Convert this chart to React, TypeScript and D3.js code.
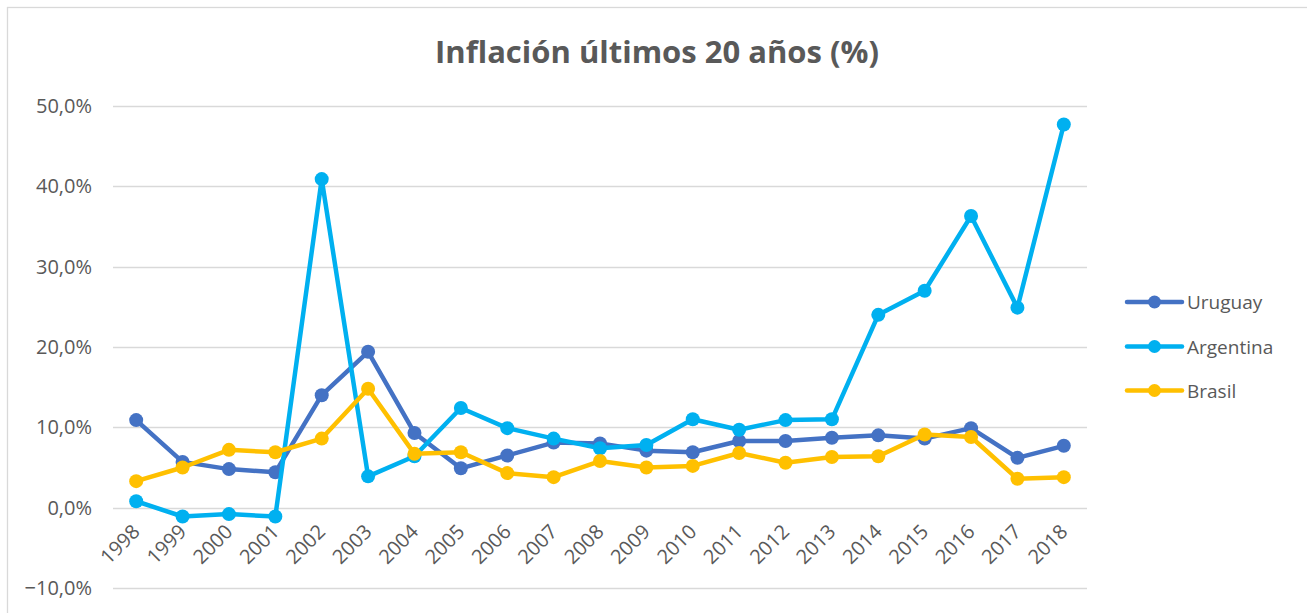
import { useEffect, useRef } from 'react'
import * as d3 from 'd3'

const years = ['1998', '1999', '2000', '2001', '2002', '2003', '2004', '2005', '2006', '2007', '2008',
  '2009', '2010', '2011', '2012', '2013', '2014', '2015', '2016', '2017', '2018']

const uruguay = [10.9, 5.7, 4.8, 4.4, 14.0, 19.4, 9.3, 4.9, 6.5, 8.1, 8.0, 7.1, 6.9, 8.3, 8.3, 8.7, 9.0, 8.6, 9.9, 6.2, 7.7]
const argentina = [0.8, -1.1, -0.8, -1.1, 40.9, 3.9, 6.4, 12.4, 9.9, 8.6, 7.4, 7.8, 11.0, 9.7, 10.9, 11.0, 24.0, 27.0, 36.3, 24.9, 47.7]
const brasil = [3.3, 5.0, 7.2, 6.9, 8.6, 14.8, 6.7, 6.9, 4.3, 3.8, 5.8, 5.0, 5.2, 6.8, 5.6, 6.3, 6.4, 9.1, 8.8, 3.6, 3.8]

const seriesNames = ['Uruguay', 'Argentina', 'Brasil']
const seriesColors = ['#4472C4', '#00B0F0', '#FFC000']
const yTicks = [-10, 0, 10, 20, 30, 40, 50]

const W = 1307
const H = 613
const FONT = '"Open Sans", "Noto Sans", sans-serif'

export default function App() {
  const svgRef = useRef<SVGSVGElement>(null)

  useEffect(() => {
    if (!svgRef.current) return
    const svg = d3.select(svgRef.current)
    svg.selectAll('*').remove()

    const x = d3.scalePoint<string>().domain(years).range([113, 1087]).padding(0.5)
    const y = d3.scaleLinear().domain([-10, 50]).range([588, 106])

    // chart frame
    svg.append('rect')
      .attr('x', 7.5).attr('y', 7.5).attr('width', W + 20).attr('height', H + 20)
      .attr('fill', '#fff').attr('stroke', '#D9D9D9').attr('stroke-width', 1.3)

    // title
    svg.append('text')
      .attr('x', 657).attr('y', 63)
      .attr('text-anchor', 'middle')
      .attr('fill', '#595959').attr('font-family', FONT)
      .attr('font-size', '31px').attr('font-weight', 'bold')
      .text('Inflación últimos 20 años (%)')

    // gridlines + y labels
    const grid = svg.append('g')
    for (const t of yTicks) {
      grid.append('line')
        .attr('x1', 113).attr('x2', 1087)
        .attr('y1', Math.round(y(t)) + 0.5).attr('y2', Math.round(y(t)) + 0.5)
        .attr('stroke', '#D9D9D9').attr('stroke-width', 1.3)
      grid.append('text')
        .attr('x', 92).attr('y', y(t) + 7)
        .attr('text-anchor', 'end')
        .attr('fill', '#595959').attr('font-family', FONT).attr('font-size', '20px')
        .text(`${d3.format('.1f')(t).replace('.', ',')}%`)
    }

    // x labels
    for (const yr of years) {
      svg.append('text')
        .attr('transform', `translate(${(x(yr) as number) + 5},533) rotate(-45)`)
        .attr('text-anchor', 'end')
        .attr('fill', '#595959').attr('font-family', FONT).attr('font-size', '20px')
        .text(yr)
    }

    // series
    const all = [uruguay, argentina, brasil]
    const line = d3.line<number>()
      .x((_, i) => x(years[i]) as number)
      .y(d => y(d))

    all.forEach((vals, si) => {
      const g = svg.append('g')
      g.append('path')
        .datum(vals)
        .attr('fill', 'none')
        .attr('stroke', seriesColors[si])
        .attr('stroke-width', 4.5)
        .attr('stroke-linejoin', 'round')
        .attr('d', line)
      g.selectAll('circle')
        .data(vals)
        .join('circle')
        .attr('cx', (_, i) => x(years[i]) as number)
        .attr('cy', d => y(d))
        .attr('r', 7)
        .attr('fill', seriesColors[si])
    })

    // legend
    const legendY = [302, 346.5, 390.5]
    seriesNames.forEach((name, i) => {
      const lg = svg.append('g').attr('transform', `translate(1127,${legendY[i]})`)
      lg.append('line')
        .attr('x1', 0).attr('x2', 55).attr('y1', 0).attr('y2', 0)
        .attr('stroke', seriesColors[i]).attr('stroke-width', 4.5).attr('stroke-linecap', 'round')
      lg.append('circle').attr('cx', 27.5).attr('cy', 0).attr('r', 6.5).attr('fill', seriesColors[i])
      lg.append('text')
        .attr('x', 60).attr('y', 7)
        .attr('fill', '#595959').attr('font-family', FONT).attr('font-size', '19px')
        .text(name)
    })
  }, [])

  return (
    <div style={{ position: 'absolute', left: 0, top: 0, width: W, height: H, overflow: 'hidden' }}>
      <svg ref={svgRef} width={W} height={H} style={{ display: 'block' }} />
    </div>
  )
}
